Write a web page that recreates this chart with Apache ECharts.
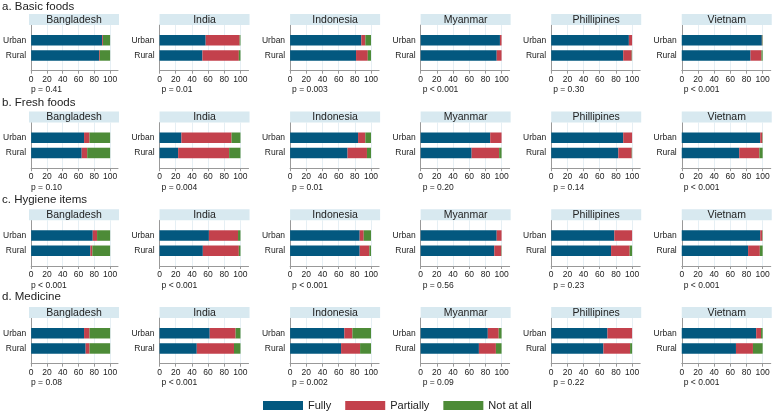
<!DOCTYPE html>
<html><head><meta charset="utf-8">
<script src="https://cdn.jsdelivr.net/npm/echarts@6/dist/echarts.min.js"></script>
<style>html,body{margin:0;padding:0;background:#fff}#c{width:774px;height:412px}</style>
</head><body><div id="c"></div><script>
const countries = ['Bangladesh', 'India', 'Indonesia', 'Myanmar', 'Phillipines', 'Vietnam'];
const sectionTitles = ['a. Basic foods', 'b. Fresh foods', 'c. Hygiene items', 'd. Medicine'];
const levels = ['Fully', 'Partially', 'Not at all'];
const areaCats = ['', 'Rural', 'Urban', ''];
const xTicks = [0, 20, 40, 60, 80, 100];

// a. Basic foods
const basicUrbanFully     = [90, 57, 88, 98, 96, 99];
const basicUrbanPartially = [1, 42, 5, 2, 4, 0.5];
const basicUrbanNotAtAll  = [9, 1, 7, 0, 0, 0.5];
const basicRuralFully     = [86, 53, 81.5, 94, 89, 85];
const basicRuralPartially = [1, 45, 14.5, 6, 10.5, 13.5];
const basicRuralNotAtAll  = [13, 2, 4, 0, 0.5, 1.5];
const basicP = ['p = 0.41', 'p = 0.01', 'p = 0.003', 'p < 0.001', 'p = 0.30', 'p < 0.001'];

// b. Fresh foods
const freshUrbanFully     = [67, 27, 84, 86, 89, 97];
const freshUrbanPartially = [7, 62, 9, 14, 11, 2.5];
const freshUrbanNotAtAll  = [26, 11, 7, 0, 0, 0.5];
const freshRuralFully     = [64, 23, 71, 63, 83, 71];
const freshRuralPartially = [7, 63, 24, 34, 16.5, 25];
const freshRuralNotAtAll  = [29, 14, 5, 3, 0.5, 4];
const freshP = ['p = 0.10', 'p = 0.004', 'p = 0.01', 'p = 0.20', 'p = 0.14', 'p < 0.001'];

// c. Hygiene items
const hygieneUrbanFully     = [78, 61, 86, 94, 78, 97];
const hygieneUrbanPartially = [5.5, 36, 5, 6, 22, 2.5];
const hygieneUrbanNotAtAll  = [16.5, 3, 9, 0, 0, 0.5];
const hygieneRuralFully     = [75, 53.5, 86, 91, 74, 82];
const hygieneRuralPartially = [2.5, 44.5, 12, 8.6, 23, 14.5];
const hygieneRuralNotAtAll  = [22.5, 2, 2, 0.4, 3, 3.5];
const hygieneP = ['p < 0.001', 'p < 0.001', 'p < 0.001', 'p = 0.56', 'p = 0.23', 'p < 0.001'];

// d. Medicine
const medUrbanFully     = [67, 62, 67, 83, 69.5, 92];
const medUrbanPartially = [7, 32, 10, 13.5, 30.5, 6];
const medUrbanNotAtAll  = [26, 6, 23, 3.5, 0, 2];
const medRuralFully     = [69, 46, 63, 72, 64.5, 67];
const medRuralPartially = [5, 46, 23.5, 21, 33, 21];
const medRuralNotAtAll  = [26, 8, 13.5, 7, 2.5, 12];
const medP = ['p = 0.08', 'p < 0.001', 'p = 0.002', 'p = 0.09', 'p = 0.22', 'p < 0.001'];

const sections = [
  {urban: [basicUrbanFully, basicUrbanPartially, basicUrbanNotAtAll], rural: [basicRuralFully, basicRuralPartially, basicRuralNotAtAll], p: basicP},
  {urban: [freshUrbanFully, freshUrbanPartially, freshUrbanNotAtAll], rural: [freshRuralFully, freshRuralPartially, freshRuralNotAtAll], p: freshP},
  {urban: [hygieneUrbanFully, hygieneUrbanPartially, hygieneUrbanNotAtAll], rural: [hygieneRuralFully, hygieneRuralPartially, hygieneRuralNotAtAll], p: hygieneP},
  {urban: [medUrbanFully, medUrbanPartially, medUrbanNotAtAll], rural: [medRuralFully, medRuralPartially, medRuralNotAtAll], p: medP}
];

const colors = ['#03587f', '#c3414c', '#4d8b37'];
const FONT = '"Liberation Sans", Arial, sans-serif';
const TXT = '#222';
const rowDy = [0, 97.5, 195.3, 293];
const titleY = [6.5, 102.7, 200, 296.5];
const colX = c => 29 + c * 130.55;
const PW = 89;

const grids = [], xAxes = [], yAxes = [], series = [], graphics = [];
let gi = 0;
sections.forEach((sec, r) => {
  const dy = rowDy[r];
  graphics.push({type: 'text', x: 2, y: titleY[r],
    style: {text: sectionTitles[r], font: '11.5px ' + FONT, fill: TXT, align: 'left', verticalAlign: 'middle'}});
  countries.forEach((name, c) => {
    const x0 = colX(c);
    graphics.push({type: 'rect', shape: {x: x0, y: 14 + dy, width: PW + 1, height: 11},
      style: {fill: '#d8e9f0'}, z: 1});
    graphics.push({type: 'text', x: x0 + (PW + 1) / 2, y: 19.8 + dy, z: 2,
      style: {text: name, font: '10.5px ' + FONT, fill: TXT, align: 'center', verticalAlign: 'middle'}});
    graphics.push({type: 'text', x: x0 + 2, y: 90 + dy,
      style: {text: sec.p[c], font: '8.5px ' + FONT, fill: TXT, align: 'left', verticalAlign: 'middle'}});
    grids.push({left: x0, top: 25 + dy, width: PW, height: 45.7});
    xAxes.push({gridIndex: gi, type: 'value', min: 0, max: 110, interval: 20,
      axisLine: {show: true, lineStyle: {color: '#999', width: 1}},
      axisTick: {show: true, length: 3, lineStyle: {color: '#999'}, customValues: xTicks},
      axisLabel: {fontSize: 8.5, fontFamily: FONT, color: TXT, margin: 4, customValues: xTicks},
      splitLine: {show: true, lineStyle: {color: '#e6eff4', width: 1}}});
    yAxes.push({gridIndex: gi, type: 'category', data: areaCats, boundaryGap: false,
      axisLine: {show: true, lineStyle: {color: '#999', width: 1}},
      axisTick: {show: false},
      axisLabel: {fontSize: 8.5, fontFamily: FONT, color: TXT, margin: 5},
      splitLine: {show: false}});
    levels.forEach((lv, k) => {
      series.push({type: 'bar', name: lv, xAxisIndex: gi, yAxisIndex: gi, stack: 'p' + gi,
        barWidth: 10.5, itemStyle: {color: colors[k]}, silent: true, animation: false,
        data: [null, sec.rural[k][c], sec.urban[k][c], null]});
    });
    gi++;
  });
});

const chart = echarts.init(document.getElementById('c'), null, {renderer: 'canvas'});
chart.setOption({
  animation: false,
  grid: grids, xAxis: xAxes, yAxis: yAxes, series: series,
  graphic: graphics,
  legend: {data: levels, left: 258, top: 395, itemWidth: 40, itemHeight: 9, itemGap: 14,
    icon: 'rect', selectedMode: false,
    textStyle: {fontSize: 11, fontFamily: FONT, color: TXT}}
});
</script></body></html>
